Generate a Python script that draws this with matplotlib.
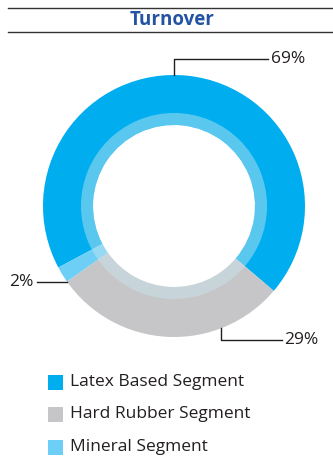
import numpy as np
import matplotlib
matplotlib.use("Agg")
import matplotlib.pyplot as plt
from matplotlib.patches import Wedge, Rectangle

segments = ["Latex Based Segment", "Hard Rubber Segment", "Mineral Segment"]
shares = [69, 29, 2]
colors = ["#00AEEF", "#C6C6C8", "#6DCFF6"]
title = "Turnover"

W, H = 333, 462
cx, cy = 174, H - 206
r_out, r_in = 131, 81
start = 208

plt.rcParams['font.family'] = ['Open Sans', 'DejaVu Sans']
fig = plt.figure(figsize=(W / 100, H / 100), dpi=100)
ax = fig.add_axes([0, 0, 1, 1])

wedges, _ = ax.pie(shares, colors=colors, startangle=start, counterclock=False,
                   radius=r_out, center=(cx, cy), frame=True,
                   wedgeprops=dict(width=r_out - r_in, linewidth=0))
# pale inner band over the ring
ax.add_patch(Wedge((cx, cy), r_in + 12, 0, 360, width=12, facecolor="#CAE7F0",
                   alpha=0.45, linewidth=0))

ax.set_xlim(0, W)
ax.set_ylim(0, H)
ax.axis("off")

# header rules and title
ax.plot([8, W], [H - 7.5, H - 7.5], color="#333333", lw=1.0)
ax.plot([8, W], [H - 32, H - 32], color="#333333", lw=1.0)
ax.text(172, H - 20, title, ha="center", va="center", fontsize=13.5,
        fontweight="bold", color="#2453A3")

txt = dict(fontsize=12.5, color="#231F20", va="center")
lc = dict(color="#231F20", lw=1.0)

def pt(angle, r=r_out):
    a = np.radians(angle)
    return cx + r * np.cos(a), cy + r * np.sin(a)

# leader lines
x0, y0 = pt(90)
ax.plot([x0, x0, 268], [y0, y0 + 16, y0 + 16], **lc)
ax.text(271, y0 + 16, f"{shares[0]}%", ha="left", **txt)

x1, y1 = pt(wedges[1].theta1)
ax.plot([37, x1], [y1, y1], **lc)
ax.text(34, y1, f"{shares[2]}%", ha="right", **txt)

ang = -np.degrees(np.arccos((221 - cx) / r_out))
x2, y2 = pt(ang)
ax.plot([x2, x2, 282], [y2, H - 340, H - 340], **lc)
ax.text(284, H - 340, f"{shares[1]}%", ha="left", **txt)

# legend
for i, (name, c) in enumerate(zip(segments, colors)):
    y = H - (382 + i * 32.5)
    ax.add_patch(Rectangle((48, y - 7.5), 15, 15, facecolor=c, linewidth=0))
    ax.text(70, y, name, ha="left", **txt)

fig.savefig("out.png", dpi=100)
